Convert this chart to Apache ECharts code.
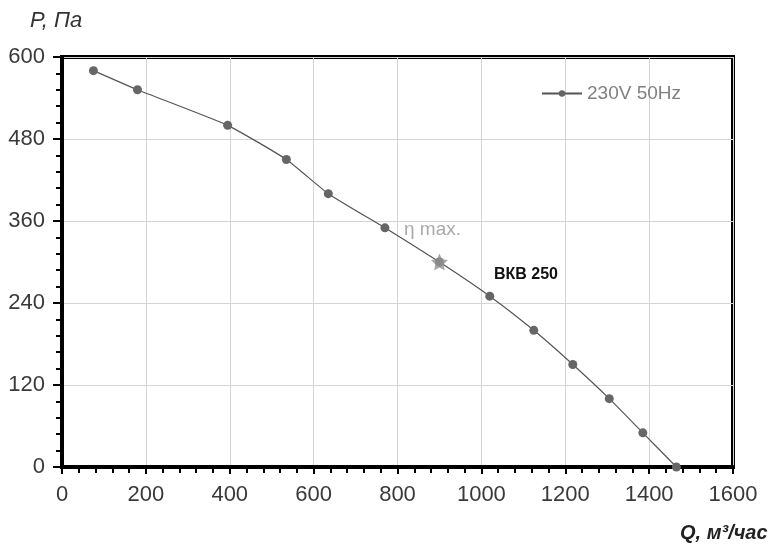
<!DOCTYPE html>
<html>
<head>
<meta charset="utf-8">
<script src="https://cdn.jsdelivr.net/npm/echarts@6/dist/echarts.min.js"></script>
<style>
  html, body { margin: 0; padding: 0; background: #fff; }
  #main { width: 778px; height: 554px; }
</style>
</head>
<body>
<div id="main"></div>
<script>
// расход, м3/час
var flow = [75, 180, 395, 535, 635, 770, 900, 1020, 1125, 1218, 1305, 1385, 1465];
// давление, Па
var pressure = [580, 552, 500, 450, 400, 350, 300, 250, 200, 150, 100, 50, 0];
// точка максимального КПД
var etaMax = [900, 300];

var seriesName = '230V 50Hz';
var modelName = 'ВКВ 250';

var lineData = [];
for (var i = 0; i < flow.length; i++) {
    lineData.push([flow[i], pressure[i]]);
}

var myChart = echarts.init(document.getElementById('main'));

var tickFont = {
    fontFamily: 'Liberation Sans',
    fontSize: 22,
    color: '#3a3a3a'
};

option = {
    backgroundColor: '#fff',
    animation: false,
    grid: {
        left: 62,
        right: 45,
        top: 57,
        bottom: 87,
        show: true,
        borderColor: '#000',
        borderWidth: 4
    },
    legend: {
        right: 92,
        top: 79,
        itemWidth: 40,
        itemHeight: 8,
        itemGap: 8,
        textStyle: { fontFamily: 'Liberation Sans', fontSize: 19, color: '#808080' },
        data: [seriesName]
    },
    xAxis: {
        type: 'value',
        min: 0,
        max: 1600,
        interval: 200,
        axisLine: { lineStyle: { color: '#000', width: 4 } },
        axisTick: { show: true, length: 7, lineStyle: { color: '#000', width: 2 } },
        minorTick: { show: true, splitNumber: 5, length: 6, lineStyle: { color: '#000', width: 2 } },
        axisLabel: Object.assign({ margin: 17, formatter: function (v) { return String(v); } }, tickFont),
        splitLine: { lineStyle: { color: '#d4d4d4', width: 1 } }
    },
    yAxis: {
        type: 'value',
        min: 0,
        max: 600,
        interval: 120,
        axisLine: { show: true, lineStyle: { color: '#000', width: 4 } },
        axisTick: { show: true, length: 9, lineStyle: { color: '#000', width: 2 } },
        minorTick: { show: true, splitNumber: 5, length: 6, lineStyle: { color: '#000', width: 2 } },
        axisLabel: Object.assign({ margin: 17, formatter: function (v) { return String(v); } }, tickFont),
        splitLine: { lineStyle: { color: '#d4d4d4', width: 1 } }
    },
    series: [
        {
            name: seriesName,
            type: 'line',
            data: lineData,
            smooth: 0.15,
            symbol: 'circle',
            symbolSize: 9,
            lineStyle: { color: '#555', width: 1.2 },
            itemStyle: { color: '#666' }
        },
        {
            name: 'eta',
            type: 'scatter',
            data: [etaMax],
            symbol: 'path://M0,-10 L2.9,-4 L9.5,-3.1 L4.7,1.5 L5.9,8.1 L0,5 L-5.9,8.1 L-4.7,1.5 L-9.5,-3.1 L-2.9,-4 Z',
            symbolSize: 17,
            itemStyle: { color: '#939393' },
            z: 5
        }
    ],
    graphic: [
        {
            type: 'text', left: 30, top: 10,
            style: { text: 'P, Па', fontFamily: 'Liberation Sans', fontSize: 22, fontStyle: 'italic', fill: '#333' }
        },
        {
            type: 'text', left: 680, top: 523,
            style: { text: 'Q, м³/час', fontFamily: 'Liberation Sans', fontSize: 20, fontStyle: 'italic', fontWeight: 'bold', fill: '#222' }
        },
        {
            type: 'text', left: 404, top: 220,
            style: { text: 'η max.', fontFamily: 'Liberation Sans', fontSize: 19, fill: '#aaa' }
        },
        {
            type: 'text', left: 494, top: 267,
            style: { text: modelName, fontFamily: 'Liberation Sans', fontSize: 16, fontWeight: 'bold', fill: '#111' }
        }
    ]
};

myChart.setOption(option);
</script>
</body>
</html>
